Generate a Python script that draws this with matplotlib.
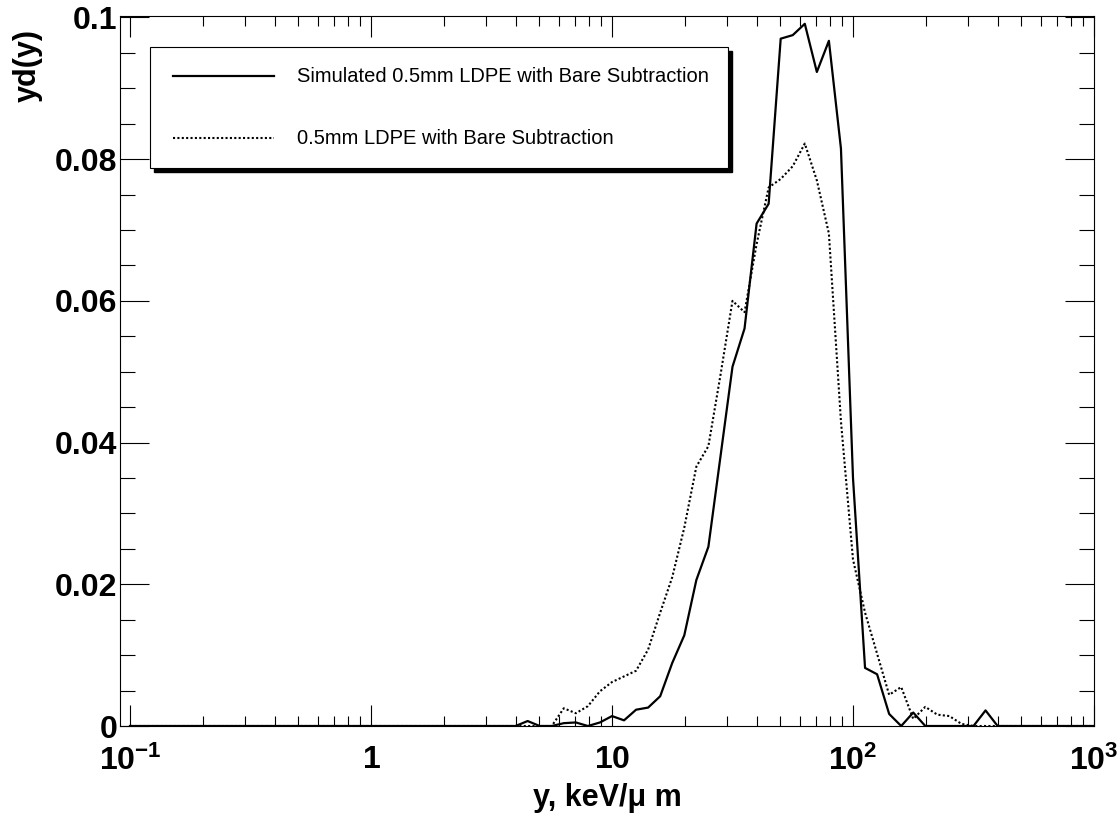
import numpy as np
import matplotlib
matplotlib.use("Agg")
from matplotlib import pyplot as plt
from matplotlib.patches import Rectangle
from matplotlib.lines import Line2D
from matplotlib.ticker import FixedLocator, FixedFormatter, LogLocator, NullFormatter, MultipleLocator

plt.rcParams["font.family"] = ["Liberation Sans", "DejaVu Sans"]
plt.rcParams["mathtext.fontset"] = "custom"
plt.rcParams["mathtext.rm"] = "Liberation Sans"
plt.rcParams["mathtext.bf"] = "Liberation Sans:bold"

# bin centres: 20 log bins per decade, 0.1 .. 1000 keV/um
bin_centers = np.logspace(-1, 3, 81)

# Simulated 0.5mm LDPE with Bare Subtraction
simulated = [0, 0, 0, 0, 0, 0, 0, 0, 0, 0,
             0, 0, 0, 0, 0, 0, 0, 0, 0, 0,
             0, 0, 0, 0, 0, 0, 0, 0, 0, 0,
             0, 0, 0, 0.0007, 0, 0, 0.0004, 0.0005, 0, 0.0005,
             0.0014, 0.0008, 0.0023, 0.0026, 0.0042, 0.0089, 0.0128, 0.0206, 0.0253, 0.0380,
             0.0507, 0.0561, 0.0709, 0.0737, 0.0970, 0.0975, 0.0991, 0.0923, 0.0967, 0.0815,
             0.0350, 0.0082, 0.0073, 0.0017, 0, 0.0019, 0, 0, 0, 0,
             0, 0.0022, 0, 0, 0, 0, 0, 0, 0, 0,
             0]

# 0.5mm LDPE with Bare Subtraction (measured)
measured = [0, 0, 0, 0, 0, 0, 0, 0, 0, 0,
            0, 0, 0, 0, 0, 0, 0, 0, 0, 0,
            0, 0, 0, 0, 0, 0, 0, 0, 0, 0,
            0, 0, 0, 0, 0, 0, 0.0025, 0.0018, 0.0028, 0.0049,
            0.0062, 0.0070, 0.0078, 0.0108, 0.0160, 0.0210, 0.0280, 0.0366, 0.0395, 0.0495,
            0.0600, 0.0584, 0.0680, 0.0760, 0.0772, 0.0790, 0.0822, 0.0770, 0.0695, 0.0430,
            0.0235, 0.0160, 0.0102, 0.0044, 0.0055, 0.0010, 0.0027, 0.0016, 0.0014, 0.0003,
            0, 0, 0, 0, 0, 0, 0, 0, 0, 0,
            0]

x_ticks = [0.1, 1, 10, 100, 1000]
x_tick_labels = [r"$\mathbf{10^{-1}}$", r"$\mathbf{1}$", r"$\mathbf{10}$",
                 r"$\mathbf{10^{2}}$", r"$\mathbf{10^{3}}$"]
y_ticks = [0, 0.02, 0.04, 0.06, 0.08, 0.1]
y_tick_labels = ["0", "0.02", "0.04", "0.06", "0.08", "0.1"]

W, H = 1118, 813
fig = plt.figure(figsize=(W / 100, H / 100), dpi=100)


def fx(p):
    return p / W


def fy(p):
    return 1 - p / H


ax = fig.add_axes([fx(120), fy(726), fx(1094) - fx(120), fy(16) - fy(726)])

ax.plot(bin_centers, simulated, color="k", linewidth=1.6)
ax.plot(bin_centers, measured, color="k", linewidth=1.5, linestyle=(0, (1, 1.1)))

ax.set_xscale("log")
ax.set_xlim(0.0909, 1000)
ax.set_ylim(0, 0.1002)

ax.xaxis.set_major_locator(FixedLocator(x_ticks))
ax.xaxis.set_major_formatter(FixedFormatter(x_tick_labels))
ax.xaxis.set_minor_locator(LogLocator(base=10, subs=np.arange(2, 10)))
ax.xaxis.set_minor_formatter(NullFormatter())
ax.yaxis.set_major_locator(FixedLocator(y_ticks))
ax.yaxis.set_major_formatter(FixedFormatter(y_tick_labels))
ax.yaxis.set_minor_locator(MultipleLocator(0.005))

ax.tick_params(which="both", direction="in", top=True, right=True, width=0.8)
ax.tick_params(axis="x", which="major", length=15, pad=14, labelsize=23)
ax.tick_params(axis="x", which="minor", length=7.5)
ax.tick_params(axis="y", which="major", length=21, pad=2, labelsize=23)
ax.tick_params(axis="y", which="minor", length=10.5)
for lab in ax.get_yticklabels():
    lab.set_fontweight("bold")
for sp in ax.spines.values():
    sp.set_linewidth(0.8)

fig.text(fx(607), fy(806), "y, keV/\u03bc m", ha="center", va="baseline",
         fontsize=22, fontweight="bold")
fig.text(fx(28), fy(65), "yd(y)", rotation=90, ha="center", va="center",
         fontsize=22, fontweight="bold")

# legend box with shadow
lx0, ly0, lx1, ly1 = 150, 46.7, 728.3, 168.3
fig.patches.append(Rectangle((fx(lx0 + 4), fy(ly1 + 4)), fx(lx1 - lx0), fy(ly0) - fy(ly1),
                             transform=fig.transFigure, facecolor="k", edgecolor="k", zorder=5))
fig.patches.append(Rectangle((fx(lx0), fy(ly1)), fx(lx1 - lx0), fy(ly0) - fy(ly1),
                             transform=fig.transFigure, facecolor="white", edgecolor="k",
                             linewidth=0.8, zorder=6))
fig.lines.append(Line2D([fx(173), fx(274)], [fy(76), fy(76)], transform=fig.transFigure,
                        color="k", linewidth=1.6, zorder=7))
fig.lines.append(Line2D([fx(173), fx(274)], [fy(138), fy(138)], transform=fig.transFigure,
                        color="k", linewidth=1.5, linestyle=(0, (1, 1.1)), zorder=7))
fig.text(fx(297), fy(76), "Simulated 0.5mm LDPE with Bare Subtraction", ha="left",
         va="center", fontsize=14.5, zorder=8)
fig.text(fx(297), fy(138), "0.5mm LDPE with Bare Subtraction", ha="left",
         va="center", fontsize=14.5, zorder=8)

fig.savefig("out.png", dpi=100)
